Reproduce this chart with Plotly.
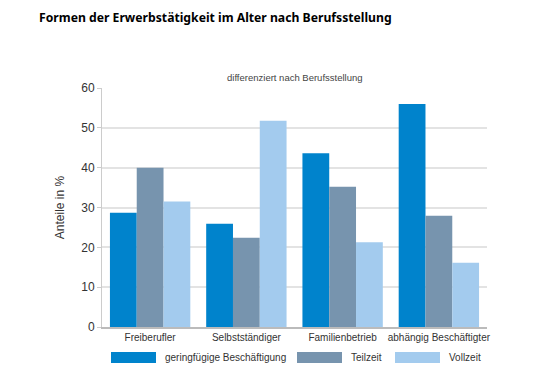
import plotly.graph_objects as go

categories = ["Freiberufler", "Selbstständiger", "Familienbetrieb", "abhängig Beschäftigter"]
series_names = ["geringfügige Beschäftigung", "Teilzeit", "Vollzeit"]
geringfuegig = [28.7, 25.9, 43.6, 56.0]
teilzeit = [40.0, 22.4, 35.2, 27.9]
vollzeit = [31.5, 51.8, 21.3, 16.1]
colors = ["#0083CC", "#7794AE", "#A3CBEE"]
y_ticks = [0, 10, 20, 30, 40, 50, 60]

fig = go.Figure()
for name, vals, col in zip(series_names, [geringfuegig, teilzeit, vollzeit], colors):
    fig.add_trace(go.Bar(x=categories, y=vals, name=name, marker_color=col,
                         marker_line_width=0, showlegend=False))

fig.update_layout(
    width=543, height=371,
    margin=dict(l=94, r=64, t=80, b=52),
    paper_bgcolor="white", plot_bgcolor="white",
    barmode="group", bargap=0.165, bargroupgap=0,
    font=dict(family="Liberation Sans, Arial, sans-serif", color="#333"),
)
fig.update_yaxes(range=[0, 60], tickvals=y_ticks, showgrid=True, gridcolor="#e3e3e3",
                 gridwidth=1.5, ticks="outside", ticklen=4, tickcolor="#cccccc",
                 showline=True, linecolor="#cccccc", linewidth=1, zeroline=False,
                 automargin=False,
                 tickfont=dict(size=12, color="#333"),
                 title=dict(text="Anteile in %", font=dict(size=12, color="#333"), standoff=14))
fig.update_xaxes(showline=True, linecolor="#bbbbbb", linewidth=1.5, ticks="",
                 automargin=False,
                 tickfont=dict(size=10, color="#333"))

# title and subtitle
fig.add_annotation(text="<b>Formen der Erwerbstätigkeit im Alter nach Berufsstellung</b>",
                   xref="paper", yref="paper", x=(37 - 102) / 385, y=(327 - 18) / 238.4,
                   xanchor="left", yanchor="middle",
                   showarrow=False, font=dict(family="Noto Sans, sans-serif", size=12.2, color="#000"))
fig.add_annotation(text="differenziert nach Berufsstellung", xref="paper", yref="paper",
                   x=0.5, y=(327 - 78) / 238.4, xanchor="center", yanchor="middle", showarrow=False,
                   font=dict(size=9.5, color="#444"))

# custom legend
leg_x = [111, 297, 395]
for lx, name, col in zip(leg_x, series_names, colors):
    x0 = (lx - 102) / 385
    x1 = (lx + 45 - 102) / 385
    fig.add_shape(type="rect", xref="paper", yref="paper", x0=x0, x1=x1,
                  y0=(327 - 363) / 238.4, y1=(327 - 352) / 238.4,
                  fillcolor=col, line_width=0)
    fig.add_annotation(text=name, xref="paper", yref="paper",
                       x=(lx + 52 - 102) / 385, y=(327 - 357.5) / 238.4,
                       xanchor="left", yanchor="middle", showarrow=False,
                       font=dict(size=10, color="#333"))

fig.write_html("out.html")
